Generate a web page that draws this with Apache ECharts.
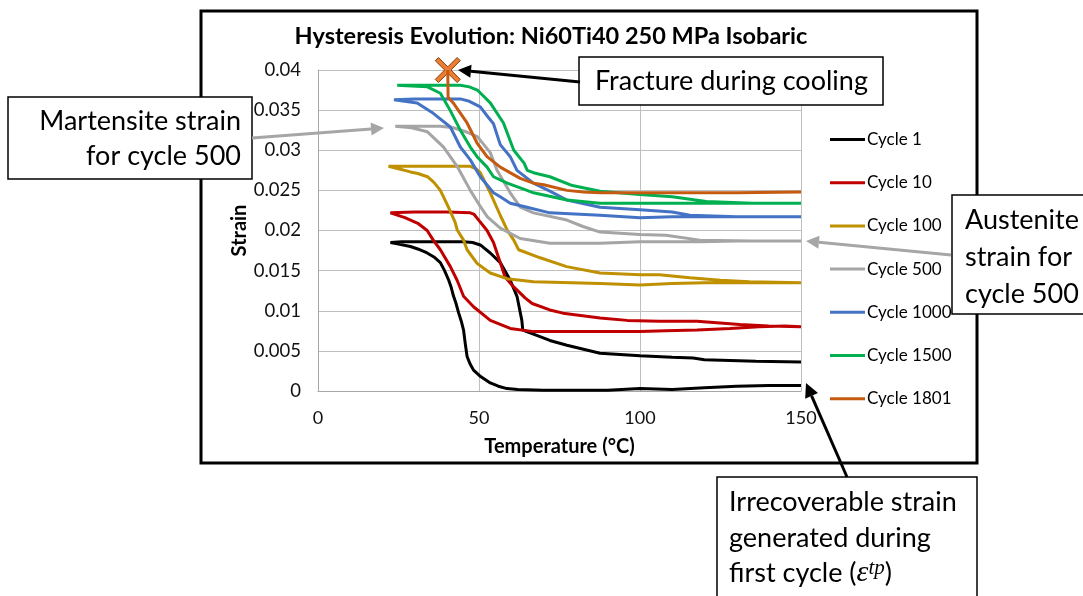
<!DOCTYPE html>
<html>
<head>
<meta charset="utf-8">
<script src="https://cdn.jsdelivr.net/npm/echarts@6/dist/echarts.min.js"></script>
<style>
html,body{margin:0;padding:0;background:#fff;}
#chart{width:1083px;height:596px;}
</style>
</head>
<body>
<div id="chart"></div>
<script>
// ---- Data: [temperature (°C), strain] pairs, in measurement order (cooling from 150 °C, then heating back) ----
const cycle1 = [
  [150,0.0007],[140,0.0007],[130,0.0006],[120,0.0004],[110,0.0002],[100,0.0003],[90,0.0001],[80,0.0001],[70,0.0001],
  [62,0.0002],[58.7,0.0003],[56,0.0006],[53.5,0.001],[50.5,0.0018],[48.3,0.0026],[47.2,0.0034],[46.3,0.0043],
  [45.7,0.006],[45.2,0.0076],[44.5,0.0087],[43.7,0.0097],[42.8,0.011],[42.1,0.0118],[41.3,0.013],[40.6,0.0138],
  [39.3,0.015],[38,0.016],[36,0.0167],[33.9,0.0172],[31,0.0177],[28.7,0.018],[25,0.0183],[22.5,0.0185],
  [26,0.0186],[35,0.0186],[45.2,0.0186],[48,0.0185],[50.4,0.0182],[53.5,0.0172],[56.6,0.016],[59.7,0.0138],
  [61.8,0.0118],[63.3,0.0088],[63.6,0.0076],[66.9,0.0071],[72,0.0063],[77.3,0.0057],[87.6,0.0047],[100,0.0044],
  [110,0.0042],[116.5,0.0041],[120,0.0039],[136,0.0037],[150,0.0036]
];
const cycle10 = [
  [150,0.008],[145,0.0081],[137,0.008],[128,0.0078],[117.7,0.0076],[108,0.0075],[100,0.0074],[87.6,0.0074],
  [66.9,0.0074],[59.7,0.0078],[53.5,0.0088],[48.3,0.0105],[45.2,0.0118],[43.2,0.0138],[41.1,0.0155],[38,0.0176],
  [35.8,0.0188],[33.9,0.02],[31,0.0209],[27,0.0216],[22.5,0.0222],
  [30,0.0223],[40,0.0223],[47.3,0.0222],[48.5,0.022],[49.9,0.0213],[52.5,0.02],[54.5,0.0185],[56.6,0.016],
  [58.1,0.0142],[60.7,0.013],[64.3,0.0116],[66.5,0.0109],[72,0.0101],[76.1,0.0097],[87.6,0.0091],[96,0.0088],
  [106,0.0087],[117.7,0.0087],[131,0.0083],[140,0.0081],[150,0.008]
];
const cycle100 = [
  [150,0.0135],[135,0.0135],[120,0.0135],[110,0.0134],[100,0.0132],[87.6,0.0134],[66.9,0.0136],[58.7,0.014],
  [53.5,0.0147],[49.4,0.0159],[46.3,0.0176],[45.2,0.0188],[43.2,0.0201],[42.6,0.021],[40.5,0.0229],[38,0.025],
  [36,0.026],[34,0.0267],[31,0.0271],[28.7,0.0273],[25,0.0277],[21.9,0.028],
  [30,0.028],[40,0.028],[47.3,0.028],[49,0.0277],[50.4,0.0272],[53.5,0.0247],[56.6,0.0219],[58.7,0.0201],
  [60.8,0.0188],[62.3,0.0176],[69,0.0166],[77.2,0.0155],[87.6,0.0147],[100,0.0145],[106,0.0145],[115.5,0.0141],
  [125,0.0138],[134,0.0136],[150,0.0135]
];
const cycle500 = [
  [150,0.0187],[130,0.0187],[118.6,0.0186],[100,0.0186],[87.6,0.0184],[72,0.0184],[62.8,0.019],[56.6,0.0203],
  [52.6,0.0217],[50.4,0.023],[47.3,0.025],[43.2,0.028],[39,0.0304],[34,0.0323],[29,0.0328],[24,0.033],
  [30,0.033],[38,0.033],[42,0.0328],[46,0.0323],[49.5,0.0317],[53.5,0.0297],[55.6,0.0275],[59.7,0.0247],
  [62.8,0.0229],[66.9,0.0222],[77.3,0.0213],[82.3,0.0205],[87.6,0.0198],[100,0.0195],[108,0.0194],[118.6,0.0188],
  [135,0.0187],[150,0.0187]
];
const cycle1000 = [
  [150,0.0217],[130,0.0217],[110,0.0217],[100,0.0216],[87.6,0.0219],[72,0.0222],[64.9,0.0229],[59.7,0.0234],
  [56.6,0.0242],[54.5,0.0247],[50.4,0.0267],[47.3,0.0288],[44.2,0.0304],[41.1,0.0329],[35.8,0.0346],[30.8,0.0359],
  [23.6,0.0363],
  [30,0.0364],[40,0.0364],[44.2,0.0364],[47,0.0361],[50.4,0.0354],[52.5,0.0343],[54.5,0.0333],[56.6,0.0307],
  [59.7,0.0292],[61.8,0.0275],[66.9,0.0259],[72,0.0249],[77.3,0.0238],[87.6,0.0229],[100,0.0226],[110,0.0223],
  [115.5,0.0219],[130,0.0217],[150,0.0217]
];
const cycle1500 = [
  [150,0.0234],[130,0.0234],[110,0.0234],[100,0.0234],[87.6,0.0234],[77.3,0.0238],[66.9,0.0247],[64.9,0.025],
  [58.8,0.0259],[56.6,0.0263],[54.5,0.0267],[52.5,0.0279],[49.4,0.0292],[47.3,0.0304],[44.2,0.0325],[41,0.035],
  [38,0.0371],[34,0.0379],[29,0.038],[24.6,0.0381],
  [30,0.0381],[40,0.0381],[44.2,0.0381],[47,0.0379],[49.5,0.0375],[53.5,0.0359],[57.6,0.0334],[60.8,0.03],
  [64,0.0284],[65,0.0275],[66.9,0.0272],[72,0.0267],[79,0.0256],[87.6,0.0249],[100,0.0245],[110,0.0242],
  [120.6,0.0236],[135,0.0234],[150,0.0234]
];
const cycle1801 = [
  [150,0.0248],[130,0.0247],[100,0.0247],[87.6,0.0247],[82.4,0.0248],[77.3,0.025],[70.1,0.0257],[66.9,0.0259],
  [62.8,0.0265],[56.6,0.0279],[52.5,0.0292],[49.4,0.0309],[46.3,0.0334],[42,0.0359],[40.4,0.0366],[40.3,0.04]
];
const fracturePoint = [40.3, 0.04];

const seriesNames = ['Cycle 1','Cycle 10','Cycle 100','Cycle 500','Cycle 1000','Cycle 1500','Cycle 1801'];
const seriesColors = ['#000000','#c00000','#bf9000','#a5a5a5','#4472c4','#00b050','#c55a11'];
const xTicks = ['0','50','100','150'];
const yTicks = ['0','0.005','0.01','0.015','0.02','0.025','0.03','0.035','0.04'];

const titleText = 'Hysteresis Evolution: Ni60Ti40 250 MPa Isobaric';
const xName = 'Temperature (°C)';
const yName = 'Strain';

// ---- Chart ----
const datasets = [cycle1, cycle10, cycle100, cycle500, cycle1000, cycle1500, cycle1801];
const FONT = 'Lato, "Open Sans", sans-serif';

const series = seriesNames.map((name, i) => {
  const s = {
    name, type: 'line', data: datasets[i], symbol: 'none', smooth: false,
    lineStyle: { width: 3, color: seriesColors[i] },
    itemStyle: { color: seriesColors[i] },
    z: 2 + i, animation: false
  };
  if (i === 6) {
    s.markPoint = {
      animation: false,
      symbol: 'path://M0,3 L3,0 L12,9 L21,0 L24,3 L15,12 L24,21 L21,24 L12,15 L3,24 L0,21 L9,12 Z',
      symbolSize: 25,
      itemStyle: { color: '#ed7d31', borderColor: '#843c0c', borderWidth: 1 },
      label: { show: false },
      data: [{ coord: fracturePoint }]
    };
  }
  return s;
});

function arrow(x1, y1, x2, y2, color, w, hl, hw, z) {
  const dx = x2 - x1, dy = y2 - y1, L = Math.hypot(dx, dy);
  const ux = dx / L, uy = dy / L, px = -uy, py = ux;
  const bx = x2 - ux * hl, by = y2 - uy * hl;
  return [
    { type: 'line', z, shape: { x1, y1, x2: bx, y2: by }, style: { stroke: color, lineWidth: w } },
    { type: 'polygon', z, shape: { points: [[x2, y2], [bx + px * hw, by + py * hw], [bx - px * hw, by - py * hw]] },
      style: { fill: color } }
  ];
}
function box(x, y, w, h, z) {
  return { type: 'rect', z, shape: { x, y, width: w, height: h },
           style: { fill: '#ffffff', stroke: '#000000', lineWidth: 1.5 } };
}
function label(x, y, text, align, z, rich) {
  const st = { text, font: '27px ' + FONT, fill: '#000000', align, verticalAlign: 'middle',
               textAlign: align, textVerticalAlign: 'middle' };
  if (rich) st.rich = rich;
  return { type: 'text', z, x, y, style: st };
}

const graphics = [
  { type: 'rect', z: 10, shape: { x: 201, y: 11, width: 776, height: 452 },
    style: { fill: null, stroke: '#000000', lineWidth: 3 } },
  box(579, 57, 304, 48, 20), label(595, 81, 'Fracture during cooling', 'left', 21),
  ...arrow(580, 82, 458, 70, '#000000', 3, 13, 6.5, 22),
  box(8, 97, 244, 82, 20),
  label(241, 121, 'Martensite strain', 'right', 21), label(241, 156, 'for cycle 500', 'right', 21),
  ...arrow(252, 138, 384, 128, '#a6a6a6', 3, 13, 6.5, 22),
  box(952, 195, 150, 119, 20),
  label(965, 220, 'Austenite', 'left', 21), label(965, 257, 'strain for', 'left', 21),
  label(965, 294, 'cycle 500', 'left', 21),
  ...arrow(951, 255, 806, 241, '#a6a6a6', 3, 13, 6.5, 22),
  box(717, 477, 260, 140, 20),
  label(729, 502, 'Irrecoverable strain', 'left', 21), label(729, 538, 'generated during', 'left', 21),
  label(729, 573, 'first cycle ({e|ε}{sup|tp})', 'left', 21, {
    e: { fontFamily: '"Liberation Serif", serif', fontStyle: 'italic', fontSize: 30, verticalAlign: 'bottom' },
    sup: { fontFamily: '"Liberation Serif", serif', fontStyle: 'italic', fontSize: 21, verticalAlign: 'top' }
  }),
  ...arrow(847, 477, 806, 383, '#000000', 3, 14, 7, 22)
];

const chart = echarts.init(document.getElementById('chart'), null, { renderer: 'canvas' });
chart.setOption({
  animation: false,
  backgroundColor: '#ffffff',
  title: {
    text: titleText, left: 546, top: 19, textAlign: 'center',
    textStyle: { fontFamily: FONT, fontWeight: 'bold', fontSize: 23.5, color: '#000000' }
  },
  grid: { left: 318, right: 282, top: 70, bottom: 205 },
  legend: {
    orient: 'vertical', left: 825, top: 126, itemWidth: 35, itemHeight: 3, itemGap: 26.2,
    icon: 'rect',
    data: seriesNames,
    textStyle: { fontFamily: FONT, fontSize: 17, lineHeight: 17, color: '#000000', padding: [0, 0, 0, -3] }
  },
  xAxis: {
    type: 'value', min: 0, max: 150, interval: 50,
    name: xName, nameLocation: 'middle', nameGap: 46,
    nameTextStyle: { fontFamily: FONT, fontWeight: 'bold', fontSize: 20, color: '#000000' },
    axisLine: { lineStyle: { color: '#a6a6a6', width: 1 } },
    axisTick: { show: false },
    splitLine: { show: true, lineStyle: { color: '#bfbfbf', width: 1 } },
    axisLabel: { fontFamily: FONT, fontSize: 18, color: '#111111', margin: 18,
                 formatter: (v) => xTicks[Math.round(v / 50)] }
  },
  yAxis: {
    type: 'value', min: 0, max: 0.04, interval: 0.005,
    name: yName, nameLocation: 'middle', nameRotate: 90, nameGap: 68,
    nameTextStyle: { fontFamily: FONT, fontWeight: 'bold', fontSize: 20, color: '#000000' },
    axisLine: { show: true, lineStyle: { color: '#a6a6a6', width: 1 } },
    axisTick: { show: false },
    splitLine: { show: true, lineStyle: { color: '#bfbfbf', width: 1 } },
    axisLabel: { fontFamily: FONT, fontSize: 18.5, color: '#111111', margin: 17,
                 formatter: (v) => yTicks[Math.round(v / 0.005)] }
  },
  series,
  graphic: { elements: graphics }
});
</script>
</body>
</html>
